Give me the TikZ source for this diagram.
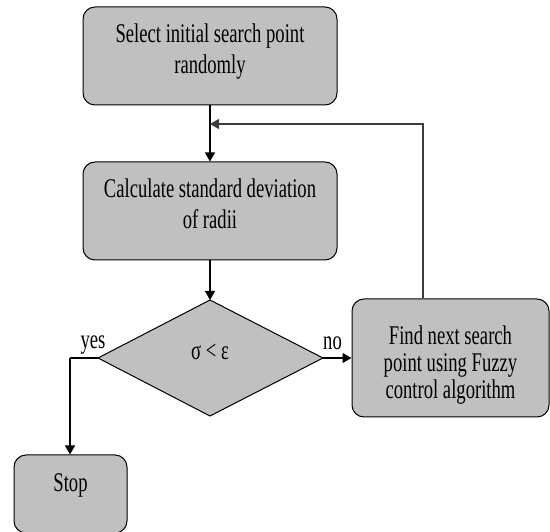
\documentclass[tikz,border=0pt]{standalone}
\usepackage{fontspec}
\setmainfont[FakeStretch=0.69]{Liberation Serif}
\usetikzlibrary{shapes.geometric,arrows.meta}
\definecolor{boxgray}{RGB}{192,192,192}
\definecolor{fbline}{RGB}{60,60,60}
\tikzset{
  procbox/.style={draw=black, line width=1pt, fill=boxgray, rounded corners=12pt, inner sep=0pt},
  decbox/.style={draw=black, line width=1pt, fill=boxgray},
  txt/.style={anchor=base, font=\fontsize{27}{30}\selectfont, inner sep=0pt},
  conn/.style={line width=1.3pt, -{Triangle[length=9pt,width=10pt]}},
  plain/.style={line width=1.3pt}
}
\begin{document}
\begin{tikzpicture}[x=1pt,y=-1pt]
\useasboundingbox (0,0) rectangle (550,532);
% boxes
\node[procbox, minimum width=254pt, minimum height=98pt] (b1) at (210,56) {};
\node[txt] (t1a) at (210,43) {Select initial search point};
\node[txt] (t1b) at (210,74) {randomly};
\node[procbox, minimum width=254pt, minimum height=98pt] (b2) at (210,211) {};
\node[txt] (t2a) at (210,198) {Calculate standard deviation};
\node[txt] (t2b) at (210,229) {of radii};
\path[decbox] (210,300) coordinate (dt) -- (323,358) coordinate (dr) -- (210,416) coordinate (db) -- (98,358) coordinate (dl) -- cycle;
\node[txt] (t3) at (210,360) {σ < ε};
\node[procbox, minimum width=197pt, minimum height=118pt] (b3) at (450.5,358) {};
\node[txt] (t4a) at (450.5,345) {Find next search};
\node[txt] (t4b) at (450.5,372) {point using Fuzzy};
\node[txt] (t4c) at (450.5,399) {control algorithm};
\node[procbox, minimum width=113pt, minimum height=78pt] (b4) at (70.5,494) {};
\node[txt] (t5) at (70.5,492) {Stop};
% labels
\node[txt] (yes) at (93,349) {yes};
\node[txt] (no) at (332.5,350) {no};
% connectors
\coordinate (j) at (210,124);
\coordinate (rc) at (423,124);
\draw[conn] (b1.south) -- (b2.north);
\draw[conn, draw=fbline] (b3.north -| rc) -- (rc) -- (j);
\draw[conn] (b2.south) -- (dt);
\draw[conn] (dr) -- (b3.west);
\draw[plain] (dl) -- (70,358) coordinate (yc);
\draw[conn] (yc) -- (b4.north -| yc);
\end{tikzpicture}
\end{document}
